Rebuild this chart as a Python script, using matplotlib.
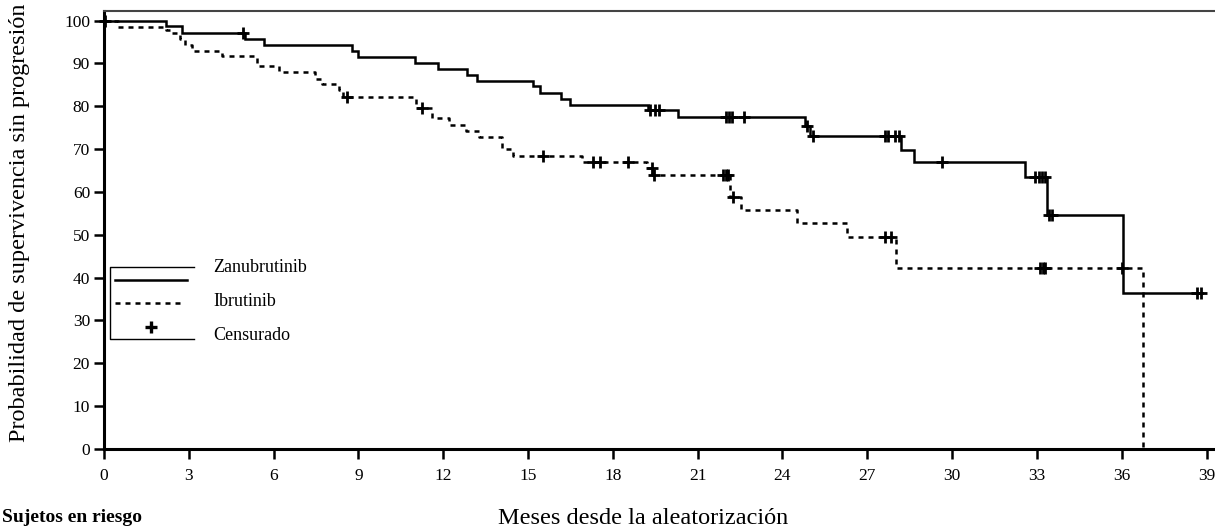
import numpy as np
import matplotlib
matplotlib.use("Agg")
import matplotlib.pyplot as plt
from matplotlib.lines import Line2D

plt.rcParams['font.family'] = ['Liberation Serif', 'DejaVu Serif']

# Zanubrutinib: tiempos de evento (meses) y supervivencia (%)
zanu_t = [0, 2.2, 2.75, 5.0, 5.66, 8.76, 8.99, 11.0, 11.83, 12.83, 13.18, 15.19,
          15.42, 16.17, 16.48, 19.24, 20.3, 24.8, 24.98, 28.2, 28.65, 32.58,
          33.37, 36.03]
zanu_s = [100, 98.7, 97.1, 95.7, 94.4, 92.9, 91.5, 90.1, 88.7, 87.4, 86.0, 84.7,
          83.2, 81.8, 80.4, 79.2, 77.6, 75.3, 73.0, 69.9, 67.0, 63.6,
          54.6, 36.4]
zanu_end = 38.85
zanu_cens = [0.05, 4.92, 19.31, 19.49, 19.64, 22.0, 22.1, 22.2, 22.64, 24.88, 25.08,
             27.63, 27.73, 27.98, 28.12, 29.63, 32.93, 33.07, 33.17, 33.3, 33.42,
             33.55, 38.65, 38.8]

# Ibrutinib
ibru_t = [0, 0.5, 2.2, 2.35, 2.7, 2.85, 3.1, 4.16, 5.4, 6.2, 7.46, 7.7, 8.3, 8.47,
          11.04, 11.6, 12.2, 12.8, 13.25, 14.07, 14.45, 16.9, 19.2, 19.4, 22.15,
          22.55, 24.5, 26.27, 28.0, 36.77]
ibru_s = [100, 98.5, 97.9, 97.1, 95.7, 94.4, 93.0, 91.7, 89.3, 87.9, 86.4, 85.1,
          83.7, 82.2, 79.5, 77.3, 75.6, 74.2, 72.8, 70.1, 68.4, 67.0, 65.6, 63.9,
          58.8, 55.7, 52.8, 49.5, 42.3, 0]
ibru_cens = [8.58, 11.24, 15.53, 17.3, 17.55, 18.54, 19.37, 19.47, 21.9, 22.0, 22.08,
             22.25, 27.63, 27.85, 33.1, 33.2, 33.3, 36.0]

x_ticks = list(range(0, 40, 3))
y_ticks = list(range(0, 101, 10))


def step_value(t, s, c):
    i = np.searchsorted(t, c, side='right') - 1
    return np.array(s)[i]


fig = plt.figure(figsize=(12.15, 5.30), dpi=100)
W, H = 1215, 530
ax = fig.add_axes([104 / W, 1 - 449 / H, 40 * 28.27 / W, (449 - 10.7) / H])

lw = 1.8
ax.step(zanu_t + [zanu_end], zanu_s + [zanu_s[-1]], where='post', color='black',
        lw=lw, solid_joinstyle='miter')
ax.step(ibru_t, ibru_s, where='post', color='black', lw=lw, linestyle=(0, (2, 2)))

ax.plot(zanu_cens, step_value(zanu_t, zanu_s, zanu_cens), linestyle='none',
        marker='+', ms=9, mew=2.0, color='black', clip_on=False)
ax.plot(ibru_cens, step_value(ibru_t, ibru_s, ibru_cens), linestyle='none',
        marker='+', ms=9, mew=2.0, color='black', clip_on=False)

ax.set_xlim(0, 40)
ax.set_ylim(0, 102.3)
ax.set_xticks(x_ticks)
ax.set_yticks(y_ticks)
ax.tick_params(axis='x', direction='out', length=7, width=1.8, pad=7, labelsize=12.5)
ax.tick_params(axis='y', direction='out', length=7, width=1.8, pad=3, labelsize=12.5)

for side in ['left', 'bottom']:
    ax.spines[side].set_linewidth(2.2)
ax.spines['top'].set_linewidth(1.5)
ax.spines['top'].set_color('#444444')
ax.spines['right'].set_visible(False)

# etiquetas
fig.text(20 / W, 1 - 442 / H, 'Probabilidad de supervivencia sin progresión',
         rotation=90, ha='center', va='bottom', fontsize=17.5)
fig.text(643 / W, 1 - 518 / H, 'Meses desde la aleatorización', ha='center',
         va='center', fontsize=17.5)
fig.text(2 / W, 1 - 518 / H, 'Sujetos en riesgo', ha='left', va='center',
         fontsize=14, fontweight='bold')

# leyenda
def fx(px):
    return px / W


def fy(py):
    return 1 - py / H


box = [(194, 267), (110, 267), (110, 339), (194, 339)]
fig.add_artist(Line2D([fx(p[0]) for p in box], [fy(p[1]) for p in box],
                      color='black', lw=1.0, transform=fig.transFigure))
fig.add_artist(Line2D([fx(115), fx(187)], [fy(280), fy(280)], color='black',
                      lw=lw, transform=fig.transFigure))
fig.add_artist(Line2D([fx(115), fx(184)], [fy(303), fy(303)], color='black',
                      lw=lw, linestyle=(0, (2, 2)), transform=fig.transFigure))
fig.add_artist(Line2D([fx(151)], [fy(327)], color='black', marker='+', ms=9,
                      mew=2.4, linestyle='none', transform=fig.transFigure))
for label, py in [('Zanubrutinib', 267), ('Ibrutinib', 302), ('Censurado', 336)]:
    fig.text(fx(213), fy(py), label, ha='left', va='center', fontsize=13)

fig.savefig('out.png', dpi=100)
